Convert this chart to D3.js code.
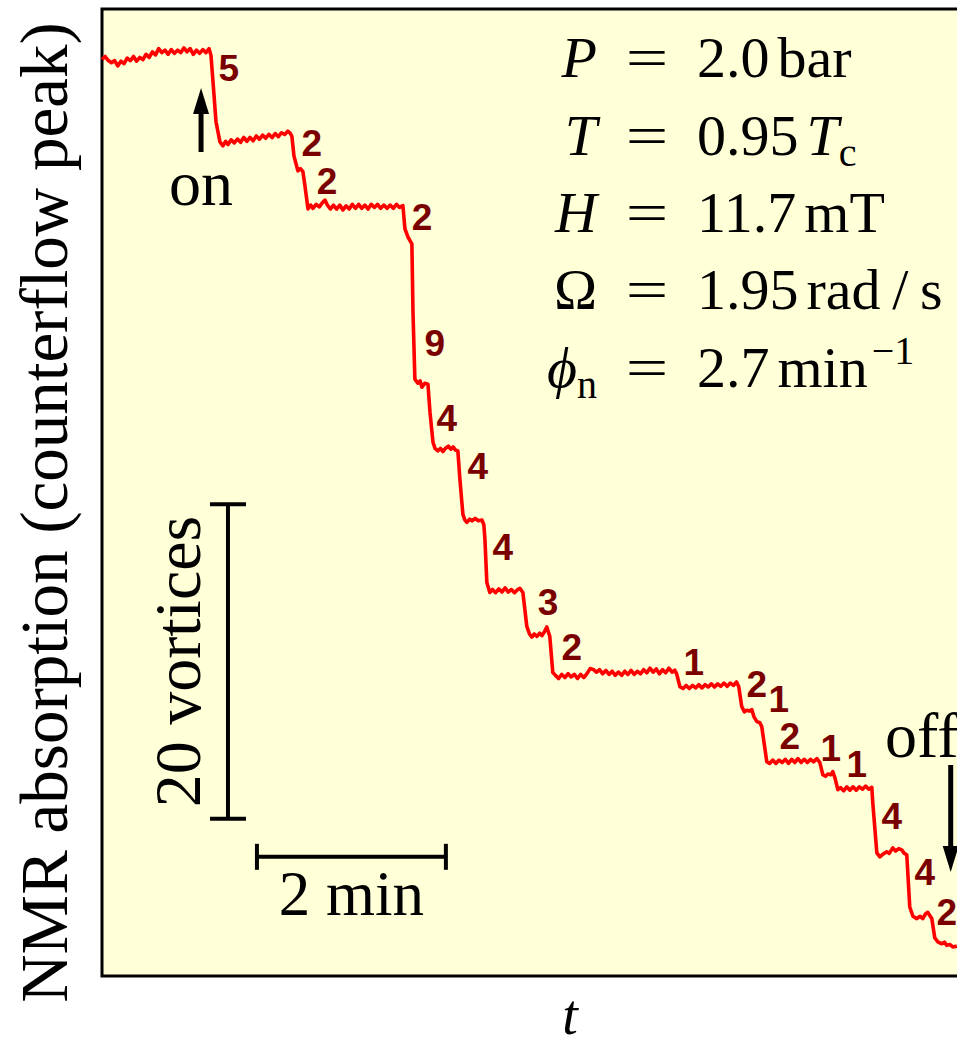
<!DOCTYPE html>
<html><head><meta charset="utf-8">
<script src="https://cdn.jsdelivr.net/npm/d3@7"></script>
<style>
body{margin:0;background:#fff;}
svg{display:block;}
</style>
</head><body>
<svg id="chart" width="957" height="1046"></svg>
<script>
// NMR trace: time in seconds, counterflow-peak absorption expressed in vortex units
const traceTime = [
  0,2,4,6,8,10,12,14,16,18,20,22,24,26,28,30,32,34,36,38,40,42,44,46,48,50,52,54,56,58,60,62,64,66,68,69.2,
  70.5,72.4,74.9,76.8,
  78.5,80,82,84,86,88,90,92,94,96,98,100,102,104,106,108,110,112,114,116,118,119.5,120.6,
  121.9,124.4,126,127.6,128.9,130.8,
  132.5,134,136,138,140,141.6,143,145,147,149,151,153,155,157,159,161,163,165,167,169,171,173,175,177,179,181,183,185,187,189,191.1,
  192.4,194.3,196.8,197.5,198.7,200.6,202,203.2,205,207,
  208.3,210.2,211.5,213.3,215,216.5,218,220,221.5,223,224.5,226,
  227.3,229.2,230.5,231.7,233.5,235,237,239,241.3,242.5,
  243.2,244.4,246.3,248,250,252,254,256,258,260,262,264,265.4,267.3,
  269.8,271.5,273,274.5,276.2,278,279.4,281,282.5,284.4,
  286.3,288,290,292,294,296,298,300,302,304,306,308,310,312,314,316,318,320,322,324,326,328,330,332,334,336,338,340,
  342,344,346,348,350,352,354,356,358,360,362,363.8,365,
  367,369,371,373,375,377,379,381,383,385,387,389,391,393,395,397,399,401,403,404.4,
  406.3,408,409.5,411,412.7,414,415.9,417.8,419,
  422.2,424,426,428,430,432,434,436,438,440,442,444,446,448,450,452,454,455.9,
  457.8,459.5,461,463,464.1,465.5,
  467.3,469,471,473,475,477,479,481,483,485,487,488.9,
  489.5,492.1,494,496,498.4,500,502.2,504,506,507.9,509.5,511.1,
  513,515,517.5,519.5,521.3,523,524.4,526,527,
  528.9,531,533.3,535,536.5,538.4,540.5,542.9];
const traceSignal = [
  58.30,58.48,58.22,58.08,58.22,57.88,58.18,58.02,58.38,58.22,58.48,58.18,58.42,58.28,58.62,58.42,58.78,58.58,58.98,58.72,
  58.88,58.62,58.92,58.68,58.88,58.72,59.02,58.78,58.98,58.62,58.88,58.68,58.92,58.72,58.98,58.55,
  56.87,54.33,53.05,52.80,
  53.08,52.88,53.18,52.98,53.23,53.02,53.33,53.08,53.33,53.12,53.43,53.22,53.48,53.28,53.53,53.32,53.58,53.38,53.63,53.52,53.73,53.60,53.40,
  52.16,51.21,51.35,51.15,50.25,48.79,
  49.03,48.82,49.08,48.92,49.18,49.35,49.05,48.78,49.03,48.78,49.03,48.72,48.98,48.78,49.08,48.82,49.08,48.82,49.03,48.78,
  49.08,48.88,49.08,48.82,49.03,48.82,49.03,48.82,49.08,48.88,49.00,
  47.51,47.00,46.56,42.23,37.96,37.70,37.85,37.45,37.70,37.64,
  35.86,33.95,33.55,33.40,33.55,33.35,33.55,33.70,33.50,33.65,33.45,33.40,
  31.59,29.36,29.00,28.85,29.05,28.95,29.10,28.95,29.00,28.70,
  27.77,25.03,24.39,24.58,24.38,24.62,24.42,24.68,24.42,24.58,24.38,24.58,24.65,24.39,
  22.23,21.75,21.55,21.75,21.60,21.80,21.65,21.90,22.20,21.59,
  19.30,19.12,18.92,19.18,18.98,19.23,19.02,19.18,18.92,19.18,18.98,19.23,19.55,19.50,19.32,19.48,19.22,19.43,19.18,19.38,
  19.12,19.33,19.12,19.38,19.18,19.43,19.18,19.38,
  19.22,19.48,19.28,19.58,19.32,19.53,19.22,19.48,19.28,19.58,19.32,19.45,19.20,
  18.40,18.28,18.48,18.28,18.48,18.32,18.53,18.32,18.53,18.38,18.58,18.38,18.58,18.42,18.63,18.42,18.63,18.48,18.70,18.40,
  17.13,16.80,16.90,16.85,16.94,16.50,16.18,16.11,15.86,
  13.63,13.52,13.73,13.52,13.73,13.58,13.78,13.52,13.78,13.58,13.83,13.58,13.78,13.58,13.78,13.62,13.83,13.57,
  12.80,12.70,12.85,12.80,13.00,12.60,
  11.85,11.98,11.78,12.03,11.82,12.03,11.82,12.03,11.88,12.08,11.88,12.00,
  11.02,7.83,7.58,7.75,7.90,7.80,8.15,7.95,8.10,8.02,7.80,7.71,
  4.39,3.80,3.65,3.80,3.65,3.95,4.05,3.80,3.65,
  2.42,2.15,2.05,2.15,1.95,2.00,1.85,1.90];

// Number of vortices entering at each step, and where each count is written
const stepCounts      = [5, 2, 2, 2, 9, 4, 4, 4, 3, 2, 1, 2, 1, 2, 1, 1, 4, 4, 2];
const stepLabelTime   = [80.6,133.3,142.9,203.2,211.4,219.0,238.7,254.6,283.2,298.4,375.9,415.9,429.8,436.8,462.9,479.4,501.6,522.5,536.5];
const stepLabelSignal = [57.7,52.93,50.51,48.21,40.25,35.48,32.42,27.26,23.76,20.89,19.93,18.53,17.58,15.22,14.46,13.44,10.13,6.56,4.01];

// Scale bars
const scaleBarVortices = [10, 30];     // signal range of the "20 vortices" bar
const scaleBarVorticesTime = 80;
const scaleBarSeconds = [98.4, 218.4]; // 2 min
const scaleBarSecondsSignal = 7.58;

// Rotation on / off markers
const markerTime  = [62.9, 539];
const markerLabel = ["on", "off"];

// Experimental parameters
const paramSymbol       = ["P", "T", "H", "\u03A9", "\u03D5"];
const paramSymbolItalic = [true, true, true, false, true];
const paramSymbolSub    = ["", "", "", "", "n"];
const paramNumber       = ["2.0", "0.95", "11.7", "1.95", "2.7"];
const paramUnit         = ["bar", "T", "mT", "rad\u2009/\u2009s", "min"];
const paramUnitItalic   = [false, true, false, false, false];
const paramUnitSub      = ["", "c", "", "", ""];
const paramUnitSup      = ["", "", "", "", "\u22121"];

const svg = d3.select("#chart");
const serif = "'Liberation Serif','Times New Roman',serif";

const x = d3.scaleLinear().domain([0, 543]).range([102, 957]);
const y = d3.scaleLinear().domain([0, 61.5]).range([976, 9]);

// plot area
svg.append("rect")
  .attr("x", x(0)).attr("y", y(61.5))
  .attr("width", 900).attr("height", y(0) - y(61.5))
  .attr("fill", "#ffffd8").attr("stroke", "#000").attr("stroke-width", 3);

// trace
const trace = traceTime.map((t, i) => [t, traceSignal[i]]);
svg.append("path")
  .datum(trace)
  .attr("fill", "none")
  .attr("stroke", "#ff0000")
  .attr("stroke-width", 3.6)
  .attr("stroke-linejoin", "round")
  .attr("d", d3.line().x(d => x(d[0])).y(d => y(d[1])));

// step counts
svg.append("g").selectAll("text")
  .data(stepCounts)
  .join("text")
  .attr("x", (d, i) => x(stepLabelTime[i]))
  .attr("y", (d, i) => y(stepLabelSignal[i]))
  .attr("text-anchor", "middle")
  .attr("dominant-baseline", "central")
  .attr("font-family", "'Liberation Sans',Arial,sans-serif")
  .attr("font-weight", "bold")
  .attr("font-size", 37)
  .attr("fill", "#7a0000")
  .text(d => d);

// scale bars
const bars = svg.append("g").attr("stroke", "#000").attr("stroke-width", 4).attr("fill", "none");
const vx = x(scaleBarVorticesTime);
bars.append("line").attr("x1", vx).attr("x2", vx).attr("y1", y(scaleBarVortices[0])).attr("y2", y(scaleBarVortices[1]));
scaleBarVortices.forEach(v => bars.append("line").attr("x1", vx - 18).attr("x2", vx + 18).attr("y1", y(v)).attr("y2", y(v)));
const hy = y(scaleBarSecondsSignal);
bars.append("line").attr("x1", x(scaleBarSeconds[0])).attr("x2", x(scaleBarSeconds[1])).attr("y1", hy).attr("y2", hy);
scaleBarSeconds.forEach(t => bars.append("line").attr("x1", x(t)).attr("x2", x(t)).attr("y1", hy - 13).attr("y2", hy + 13));

svg.append("text")
  .attr("transform", `translate(${vx - 28},${(y(scaleBarVortices[0]) + y(scaleBarVortices[1])) / 2}) rotate(-90)`)
  .attr("text-anchor", "middle")
  .attr("font-family", serif).attr("font-size", 66)
  .text("20 vortices");
svg.append("text")
  .attr("x", (x(scaleBarSeconds[0]) + x(scaleBarSeconds[1])) / 2)
  .attr("y", hy + 58)
  .attr("text-anchor", "middle")
  .attr("font-family", serif).attr("font-size", 63)
  .text("2 min");

// on / off arrows
function arrow(px, yTail, yTip) {
  const dir = yTip < yTail ? 1 : -1;
  svg.append("line").attr("x1", px).attr("x2", px).attr("y1", yTail).attr("y2", yTip + dir * 20)
    .attr("stroke", "#000").attr("stroke-width", 5);
  svg.append("path")
    .attr("d", `M${px},${yTip} L${px - 8},${yTip + dir * 26} L${px + 8},${yTip + dir * 26} Z`)
    .attr("fill", "#000");
}
arrow(x(markerTime[0]), 152, 88);
arrow(x(markerTime[1]), 765, 872);

svg.append("text").attr("x", x(markerTime[0])).attr("y", 205)
  .attr("text-anchor", "middle").attr("font-family", serif).attr("font-size", 64)
  .text(markerLabel[0]);
svg.append("text").attr("x", 885).attr("y", 757)
  .attr("font-family", serif).attr("font-size", 64)
  .text(markerLabel[1]);

// parameter block
const rowY = [77, 155, 232, 309, 387];
const params = svg.append("g").attr("font-family", serif).attr("font-size", 58).attr("fill", "#000");
paramSymbol.forEach((s, i) => {
  const lt = params.append("text").attr("x", 597).attr("y", rowY[i]).attr("text-anchor", "end");
  lt.append("tspan").attr("font-style", paramSymbolItalic[i] ? "italic" : "normal").text(s);
  if (paramSymbolSub[i]) lt.append("tspan").attr("font-size", 40).attr("dy", 11).text(paramSymbolSub[i]);
  params.append("text")
    .attr("transform", `translate(647,${rowY[i]}) scale(1.3,1)`)
    .attr("text-anchor", "middle").text("=");
  const vt = params.append("text").attr("x", 697).attr("y", rowY[i]);
  vt.append("tspan").text(paramNumber[i]);
  vt.append("tspan").attr("dx", 8).attr("font-style", paramUnitItalic[i] ? "italic" : "normal").text(paramUnit[i]);
  if (paramUnitSub[i]) vt.append("tspan").attr("font-size", 40).attr("dy", 11).text(paramUnitSub[i]);
  if (paramUnitSup[i]) vt.append("tspan").attr("font-size", 40).attr("dy", -23).attr("dx", 4).text(paramUnitSup[i]);
});

// axis titles
svg.append("text")
  .attr("transform", `translate(67,${(y(0) + y(61.5)) / 2 + 20}) rotate(-90)`)
  .attr("text-anchor", "middle")
  .attr("font-family", serif).attr("font-size", 67)
  .text("NMR absorption (counterflow peak)");
svg.append("text")
  .attr("x", 570).attr("y", 1034)
  .attr("text-anchor", "middle")
  .attr("font-family", serif).attr("font-style", "italic").attr("font-size", 56)
  .text("t");
</script>
</body></html>
